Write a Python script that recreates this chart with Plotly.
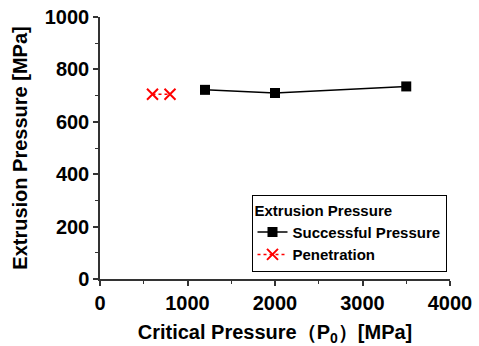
import plotly.graph_objects as go

succ_x = [1200, 2000, 3500]
succ_y = [722, 710, 735]
pen_x = [600, 800]
pen_y = [705, 705]
x_ticks = [0, 1000, 2000, 3000, 4000]
y_ticks = [0, 200, 400, 600, 800, 1000]

FONT = "Liberation Sans, Arial, sans-serif"

fig = go.Figure()
fig.add_trace(go.Scatter(
    x=succ_x, y=succ_y, mode="lines+markers", name="<b>Successful Pressure</b>",
    line=dict(color="black", width=1.5),
    marker=dict(symbol="square", size=10, color="black"),
))
fig.add_trace(go.Scatter(
    x=pen_x, y=pen_y, mode="lines+markers", name="<b>Penetration</b>",
    line=dict(color="red", width=1.5, dash="dot"),
    marker=dict(symbol="x-thin", size=11, color="red", line=dict(color="red", width=2)),
))

axis_common = dict(
    showline=True, linecolor="#333", linewidth=1.5, mirror=False,
    ticks="outside", ticklen=5, tickwidth=1.5, tickcolor="#333",
    showgrid=False, zeroline=False, automargin=False,
    tickfont=dict(family=FONT, size=20, color="black"),
)

fig.update_xaxes(
    range=[0, 4000], tickvals=x_ticks, ticktext=[f"<b>{v}</b>" for v in x_ticks],
    minor=dict(ticks="outside", ticklen=3, tickwidth=1, tickcolor="#333", dtick=500, tick0=0),
    title=dict(text="<b>Critical Pressure（P<sub>0</sub>）[MPa]</b>",
               font=dict(family=FONT, size=20, color="black"), standoff=18),
    **axis_common,
)
fig.update_yaxes(
    range=[0, 1000], tickvals=y_ticks, ticktext=[f"<b>{v}</b>" for v in y_ticks],
    minor=dict(ticks="outside", ticklen=3, tickwidth=1, tickcolor="#333", dtick=100, tick0=0),
    title=dict(text="<b>Extrusion Pressure [MPa]</b>",
               font=dict(family=FONT, size=20, color="black"), standoff=12),
    **axis_common,
)

fig.update_layout(
    width=479, height=346,
    margin=dict(l=100, r=29, t=17, b=67),
    paper_bgcolor="white", plot_bgcolor="white",
    showlegend=True,
    legend=dict(
        title=dict(text="<b>Extrusion Pressure</b>", font=dict(family=FONT, size=15, color="black")),
        font=dict(family=FONT, size=15, color="black"),
        x=0.99, xanchor="right", y=0.32, yanchor="top",
        bordercolor="black", borderwidth=1, bgcolor="white",
        tracegroupgap=0, itemwidth=30,
    ),
)

fig.write_html("out.html", config={"displayModeBar": False},
               post_script="document.body.style.margin='0';document.body.style.overflow='hidden';")
